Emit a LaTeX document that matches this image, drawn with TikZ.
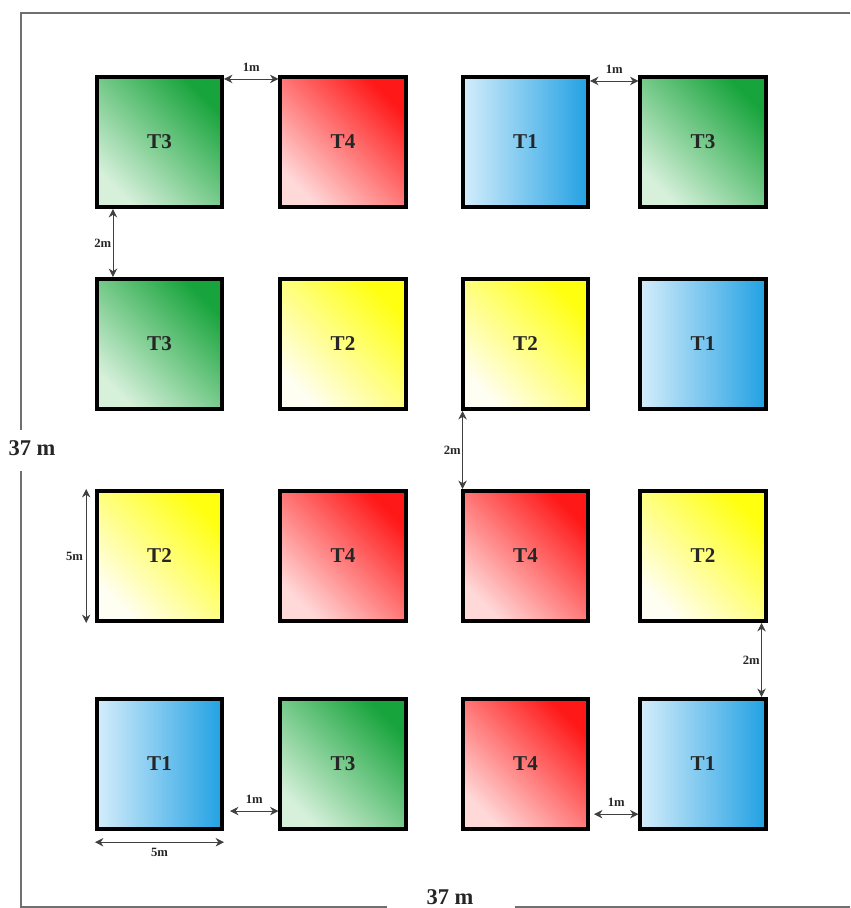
\documentclass[tikz,border=0pt]{standalone}
\usepackage{fontspec}
\setmainfont{Liberation Serif}
\usetikzlibrary{arrows.meta}

\definecolor{blueL}{HTML}{D4EDFB}
\definecolor{blueD}{HTML}{22A1E3}
\definecolor{yelL}{HTML}{FFFEF2}
\definecolor{yelD}{HTML}{FFFF10}
\definecolor{grnL}{HTML}{D6F0DA}
\definecolor{grnD}{HTML}{18A43C}
\definecolor{redL}{HTML}{FFD8D8}
\definecolor{redD}{HTML}{FF1818}
\definecolor{frame}{HTML}{707070}

\begin{document}
\begin{tikzpicture}[x=0.025cm, y=-0.025cm,
    plot/.style={draw=black, line width=0.1cm, minimum width=3.125cm, minimum height=3.25cm, inner sep=0pt,
        text=black!85, font=\fontsize{15}{17}\selectfont\bfseries},
    tA/.style={plot, left color=blueL, right color=blueD},
    tB/.style={plot, left color=yelL, right color=yelD, shading angle=135},
    tC/.style={plot, left color=grnL, right color=grnD, shading angle=135},
    tD/.style={plot, left color=redL, right color=redD, shading angle=135},
    dim/.style={{Stealth[length=6pt,width=6pt]}-{Stealth[length=6pt,width=6pt]}, draw=black!75, line width=0.6pt},
    lbl/.style={font=\fontsize{9}{10}\selectfont\bfseries, text=black!85, inner sep=1pt},
    total/.style={font=\fontsize{16}{18}\selectfont\bfseries, text=black!85, inner sep=0pt}]
        \useasboundingbox (0,0) rectangle (850,908);

        % Plots, row 1
        \node[tC] (P11) at (159.5,142) {T3};
        \node[tD] (P12) at (343,142) {T4};
        \node[tA] (P13) at (525.5,142) {T1};
        \node[tC] (P14) at (703,142) {T3};

        % Plots, row 2
        \node[tC] (P21) at (159.5,344) {T3};
        \node[tB] (P22) at (343,344) {T2};
        \node[tB] (P23) at (525.5,344) {T2};
        \node[tA] (P24) at (703,344) {T1};

        % Plots, row 3
        \node[tB] (P31) at (159.5,556) {T2};
        \node[tD] (P32) at (343,556) {T4};
        \node[tD] (P33) at (525.5,556) {T4};
        \node[tB] (P34) at (703,556) {T2};

        % Plots, row 4
        \node[tA] (P41) at (159.5,764) {T1};
        \node[tC] (P42) at (343,764) {T3};
        \node[tD] (P43) at (525.5,764) {T4};
        \node[tA] (P44) at (703,764) {T1};

        % Field outline
        \coordinate (TL) at (21,13);
        \coordinate (TR) at (850,13);
        \coordinate (BL) at (21,907);
        \coordinate (BR) at (850,907);
        \node[total] (W) at (450,897) {37 m};
        \node[total] (H) at (32,448) {37 m};
        \draw[frame, line width=1pt] (TR) -- (TL) -- (21,430);
        \draw[frame, line width=1pt] (21,471) -- (BL) -- (387,907);
        \draw[frame, line width=1pt] (515,907) -- (BR);

        % Spacing between plots
        \draw[dim] ([yshift=-0.1cm]P11.north east) -- ([yshift=-0.1cm]P12.north west)
            node[midway, above=4pt, lbl] {1m};
        \draw[dim] ([yshift=-0.15cm]P13.north east) -- ([yshift=-0.15cm]P14.north west)
            node[midway, above=4pt, lbl] {1m};
        \draw[dim] ([xshift=0.45cm]P11.south west) -- ([xshift=0.45cm]P21.north west)
            node[midway, left=0pt, lbl] {2m};
        \draw[dim] ([xshift=0.04cm]P23.south west) -- ([xshift=0.04cm]P33.north west)
            node[midway, left=0pt, lbl] {2m};
        \draw[dim] ([xshift=-0.15cm]P34.south east) -- ([xshift=-0.15cm]P44.north east)
            node[midway, left=0pt, lbl] {2m};
        \draw[dim] ([yshift=0.5cm,xshift=0.15cm]P41.south east) -- ([yshift=0.5cm]P42.south west)
            node[midway, above=4pt, lbl] {1m};
        \draw[dim] ([yshift=0.42cm,xshift=0.1cm]P43.south east) -- ([yshift=0.42cm]P44.south west)
            node[midway, above=4pt, lbl] {1m};

        % Plot size
        \draw[dim] ([xshift=-0.22cm]P31.north west) -- ([xshift=-0.22cm]P31.south west)
            node[midway, left=1pt, lbl] {5m};
        \draw[dim] ([yshift=-0.28cm]P41.south west) -- ([yshift=-0.28cm]P41.south east)
            node[midway, below=3pt, lbl] {5m};
    \end{tikzpicture}
\end{document}
